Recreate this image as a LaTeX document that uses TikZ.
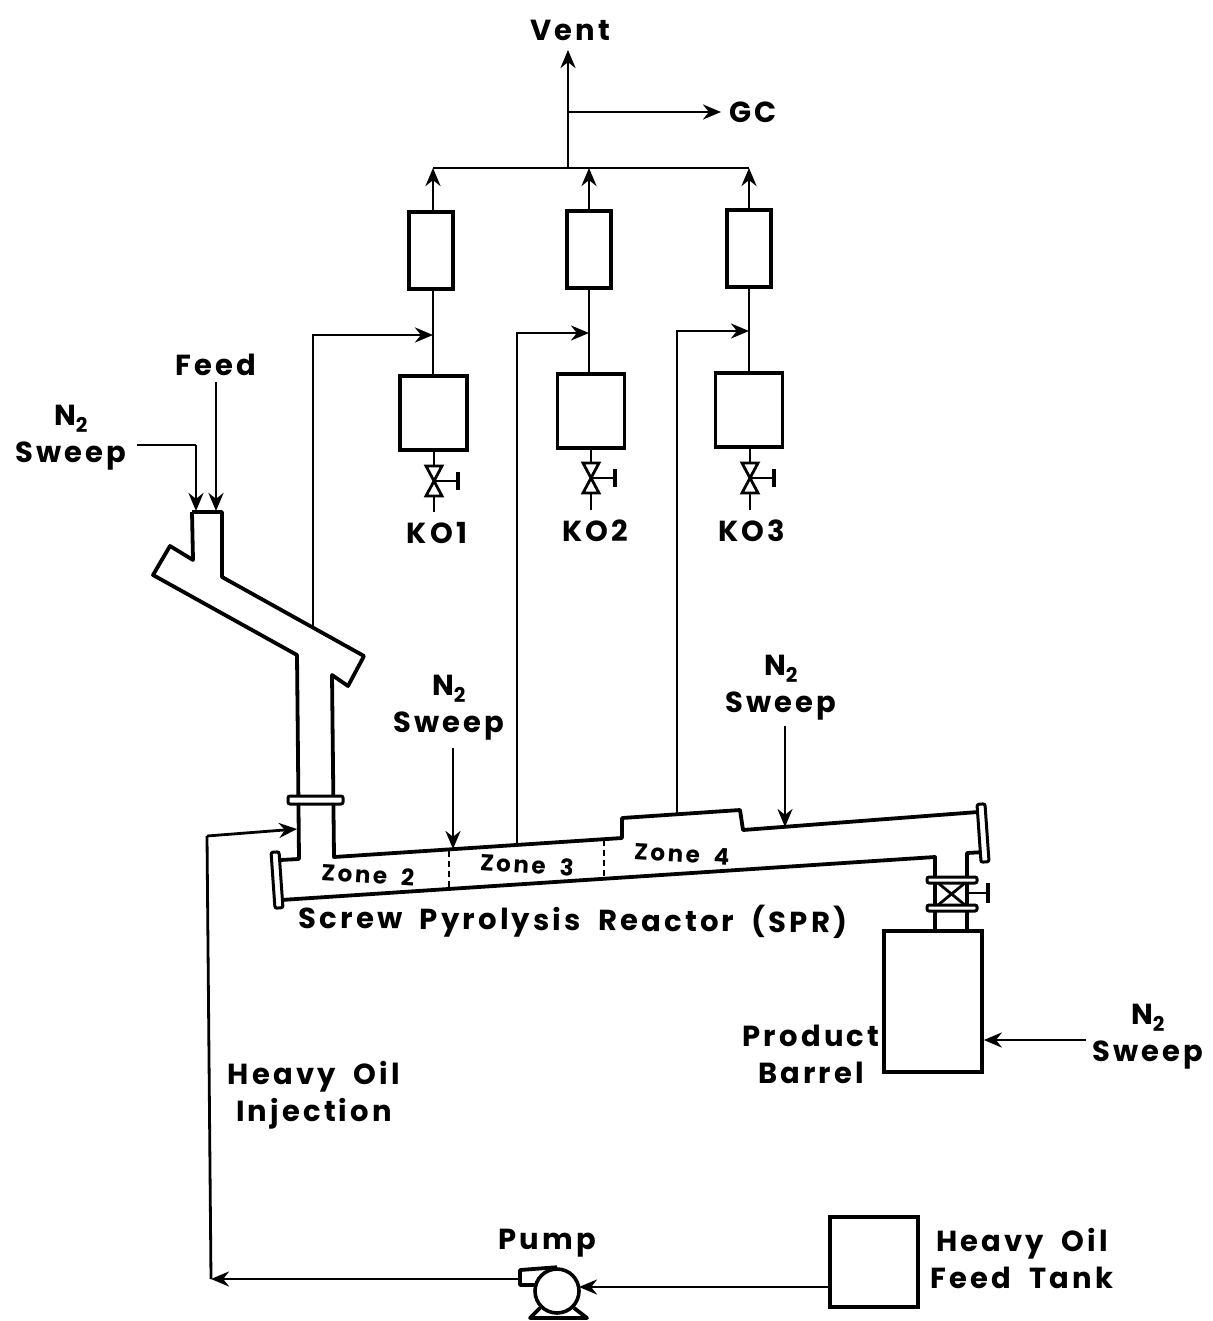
\documentclass[tikz,border=0pt]{standalone}
\usepackage{fontspec}
\setmainfont{Poppins}[LetterSpace=11,WordSpace=1.9]
\usetikzlibrary{arrows.meta,positioning}

\begin{document}
\begin{tikzpicture}[
  x=1pt, y=-1pt,
  font=\fontsize{29}{37}\selectfont\bfseries,
  vessel/.style={draw=black, line width=3.6pt, minimum width=67pt, minimum height=74pt, inner sep=0pt},
  trap/.style={draw=black, line width=3.2pt, minimum width=44pt, minimum height=77pt, inner sep=0pt},
  tag/.style={align=center, inner sep=0pt},
  zonetag/.style={font=\fontsize{23}{24}\selectfont\bfseries, inner sep=0pt, rotate=-3.5},
  arrow/.style={-{Stealth[length=18pt,width=15pt]}, line width=2.8pt, draw=black},
  line/.style={line width=2.8pt, draw=black},
  wall/.style={line width=3.8pt, draw=black, line join=round},
  flange/.style={line width=3pt, draw=black, fill=white, rounded corners=2pt}
]
\useasboundingbox (0,0) rectangle (1212,1321);

% knock-out train
\node[trap] (trap1) at (431,250.5) {};
\node[trap] (trap2) at (589,249.5) {};
\node[trap] (trap3) at (749,248.5) {};
\node[vessel] (ko1) at (433.5,413) {};
\node[vessel] (ko2) at (591,411) {};
\node[vessel] (ko3) at (749,410) {};
\coordinate (valve1) at (434,481);
\coordinate (valve2) at (591,478);
\coordinate (valve3) at (750,478);
\coordinate (drain1) at (434,512);
\coordinate (drain2) at (591,510);
\coordinate (drain3) at (750,510);
\coordinate (hdr1) at (433,168);
\coordinate (hdr2) at (589,168);
\coordinate (hdr3) at (749,168);
\coordinate (hdrmid) at (568,168);
\coordinate (tee) at (568,112);
\coordinate (ventend) at (568,50);
\coordinate (gcend) at (721,112);
\coordinate (tap1) at (433,335);
\coordinate (tap2) at (589,333);
\coordinate (tap3) at (749,331);
\coordinate (rise1) at (313,627);
\coordinate (rise2) at (517,845);
\coordinate (rise3) at (677,814);

\draw[line] (hdr1) -- (hdr3);
\foreach \i in {1,2,3} {
  \draw[line] (hdr\i |- ko\i.north) -- (hdr\i |- trap\i.south);
  \draw[arrow] (hdr\i |- trap\i.north) -- (hdr\i);
  \draw[line] (drain\i |- ko\i.south) -- (drain\i);
}
\draw[arrow] (hdrmid) -- (ventend);
\draw[arrow] (tee) -- (gcend);
\foreach \i in {1,2,3}
  \draw[arrow] (rise\i) |- (tap\i);

\foreach \v in {valve1,valve2,valve3} {
  \draw[line, fill=white] (\v) -- ++(-8,-15) -- ++(16,0) -- cycle;
  \draw[line, fill=white] (\v) -- ++(-8,15) -- ++(16,0) -- cycle;
  \draw[line] (\v) -- ++(24,0);
  \draw[line, line width=3.4pt] ([shift={(24,-9)}]\v) -- ++(0,18);
}

% reactor with feed hopper
\draw[wall] (192,512) -- (222,512) -- (222,577) -- (364,656) -- (348,686) -- (332,675)
  -- (334,857) -- (622,838) -- (622,818) -- (740,810) -- (743,830) -- (978,812);
\draw[wall] (192,512) -- (193,560) -- (170,546) -- (153,575) -- (297,655) -- (299,859) -- (280,860);
\draw[wall] (281,900) -- (935,857) -- (935,930);
\draw[wall] (967,930) -- (967,853) -- (985,852);
\draw[flange] (288,796) rectangle (343,804);
\draw[flange, rotate around={4:(277,880)}] (273,852) rectangle (281,908);
\draw[flange, rotate around={4:(983,833)}] (979,804) rectangle (987,862);
\draw[line, dashed, dash pattern=on 6pt off 4pt] (449,851) -- (449,889);
\draw[line, dashed, dash pattern=on 6pt off 4pt] (604,840) -- (604,878);
\node[zonetag] (zone2) at (368,875) {Zone 2};
\node[zonetag] (zone3) at (527,865) {Zone 3};
\node[zonetag] (zone4) at (682,854) {Zone 4};

% discharge valve
\draw[flange] (927,877) rectangle (977,883);
\draw[flange] (927,905) rectangle (977,911);
\draw[line] (938,883) -- (965,905);
\draw[line] (965,883) -- (938,905);
\draw[line] (968,893) -- (988,893);
\draw[line, line width=3.4pt] (988,883) -- (988,903);

\node[vessel, minimum width=98pt, minimum height=141pt] (barrel) at (933,1001.5) {};
\node[vessel, line width=3.2pt, minimum width=88pt, minimum height=90pt] (tank) at (874,1262) {};

% pump
\node[draw=black, circle, line width=3.6pt, minimum size=44pt, inner sep=0pt] (pump) at (557,1291) {};
\draw[wall] (pump.north) -- (520,1270) -- (520,1285) -- (537,1285);
\draw[wall] (pump.south west) -- (530,1318) -- (587,1318) -- (pump.south east);

% nitrogen and feed lines
\coordinate (sweepa) at (137,445);
\coordinate (sweepbend) at (196,445);
\coordinate (sweepatip) at (196,511);
\coordinate (feedend) at (216,382);
\coordinate (feedtip) at (216,511);
\coordinate (sweepb) at (453,748);
\coordinate (sweepbtip) at (453,849);
\coordinate (sweepc) at (785,726);
\coordinate (sweepctip) at (785,827);
\coordinate (sweepd) at (1086,1040);
\coordinate (oilbend) at (207,836);
\coordinate (oilfoot) at (211,1279);
\coordinate (oiltip) at (297,829);
\coordinate (pumpout) at (520,1279);
\coordinate (pumpin) at (579,1287);

\draw[line] (sweepa) -- (sweepbend);
\draw[arrow] (sweepbend) -- (sweepatip);
\draw[arrow] (feedend) -- (feedtip);
\draw[arrow] (sweepb) -- (sweepbtip);
\draw[arrow] (sweepc) -- (sweepctip);
\draw[arrow] (sweepd) -- (barrel.east |- sweepd);
\draw[arrow] (tank.west |- pumpin) -- (pumpin);
\draw[arrow] (pumpout) -- (oilfoot);
\draw[line] (oilfoot) -- (oilbend);
\draw[arrow] (oilbend) -- (oiltip);

% labels
\node[tag] (vent) at (570,30) {Vent};
\node[tag] (gc) at (753,112) {GC};
\node[tag] (feed) at (216,365) {Feed};
\node[tag] (kotag1) at (437,533) {KO1};
\node[tag] (kotag2) at (595,531) {KO2};
\node[tag] (kotag3) at (752,531) {KO3};
\node[tag] (sweeptag1) at (71,438) {N\textsubscript{2}\\Sweep};
\node[tag] (sweeptag2) at (449,708) {N\textsubscript{2}\\Sweep};
\node[tag] (sweeptag3) at (781,688) {N\textsubscript{2}\\Sweep};
\node[tag] (sweeptag4) at (1148,1037) {N\textsubscript{2}\\Sweep};
\node[tag, rotate=-0.5] (sprtag) at (573,921) {Screw Pyrolysis Reactor (SPR)};
\node[tag] (barreltag) at (811,1054) {Product\\Barrel};
\node[tag] (injtag) at (314,1095) {Heavy Oil\\Injection};
\node[tag] (pumptag) at (547,1243) {Pump};
\node[tag] (tanktag) at (1022,1258) {Heavy Oil\\Feed Tank};
\end{tikzpicture}
\end{document}
